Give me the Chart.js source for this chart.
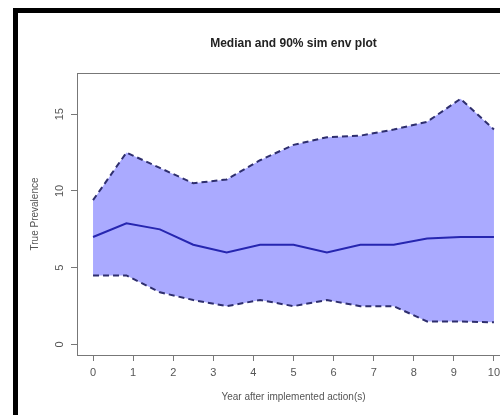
<!DOCTYPE html>
<html>
<head>
<meta charset="utf-8">
<script src="https://cdn.jsdelivr.net/npm/chart.js@4"></script>
<style>
  html, body { margin: 0; padding: 0; background: #fff; overflow: hidden; }
  #wrap { position: absolute; left: 0; top: 0; width: 540px; height: 415px; }
  #frame { position: absolute; left: 13px; top: 8px; width: 600px; height: 500px;
           border-left: 5px solid #000; border-top: 5px solid #000; pointer-events: none; }
</style>
</head>
<body>
<div id="wrap"><canvas id="envChart" width="540" height="415"></canvas></div>
<div id="frame"></div>
<script>
// years (13 steps from 0 to 10)
const years = [0, 0.833, 1.667, 2.5, 3.333, 4.167, 5, 5.833, 6.667, 7.5, 8.333, 9.167, 10];
const upper90 = [9.4, 12.5, 11.5, 10.5, 10.75, 12, 13, 13.5, 13.6, 14, 14.5, 16, 14];
const median = [7, 7.9, 7.5, 6.5, 6, 6.5, 6.5, 6, 6.5, 6.5, 6.9, 7, 7];
const lower90 = [4.5, 4.5, 3.4, 2.9, 2.5, 2.9, 2.5, 2.9, 2.5, 2.5, 1.5, 1.5, 1.45];
const xTicks = [0, 1, 2, 3, 4, 5, 6, 7, 8, 9, 10];
const yTicks = [0, 5, 10, 15];

const pts = (arr) => arr.map((v, i) => ({ x: years[i], y: v }));

const rStyle = {
  id: "rStyle",
  afterDraw(chart) {
    const { ctx, chartArea: a, scales } = chart;
    ctx.save();
    ctx.strokeStyle = "#777";
    ctx.lineWidth = 1;
    ctx.strokeRect(a.left + 0.5, a.top + 0.5, a.right - a.left, a.bottom - a.top);

    ctx.fillStyle = "#222";
    ctx.font = "bold 12px 'Liberation Sans', Arial, sans-serif";
    ctx.textAlign = "center";
    ctx.textBaseline = "middle";
    ctx.fillText("Median and 90% sim env plot", (a.left + a.right) / 2, 44);

    ctx.fillStyle = "#555";
    ctx.font = "11px 'Liberation Sans', Arial, sans-serif";
    xTicks.forEach((t) => {
      ctx.fillText(String(t), scales.x.getPixelForValue(t), a.bottom + 18);
    });
    yTicks.forEach((t) => {
      ctx.save();
      ctx.translate(a.left - 17, scales.y.getPixelForValue(t));
      ctx.rotate(-Math.PI / 2);
      ctx.fillText(String(t), 0, 0);
      ctx.restore();
    });

    ctx.font = "10px 'Liberation Sans', Arial, sans-serif";
    ctx.fillText("Year after implemented action(s)", (a.left + a.right) / 2, a.bottom + 42);
    ctx.save();
    ctx.translate(35, (a.top + a.bottom) / 2);
    ctx.rotate(-Math.PI / 2);
    ctx.fillText("True Prevalence", 0, 0);
    ctx.restore();
    ctx.restore();
  }
};

new Chart(document.getElementById("envChart"), {
  type: "line",
  data: {
    datasets: [
      {
        label: "median",
        data: pts(median),
        borderColor: "#2626b0",
        borderWidth: 2,
        pointRadius: 0,
        fill: false,
        order: 0
      },
      {
        label: "upper",
        data: pts(upper90),
        borderColor: "#2e2e6e",
        borderWidth: 2,
        borderDash: [6, 4],
        pointRadius: 0,
        fill: 2,
        backgroundColor: "#aaaaff",
        order: 2
      },
      {
        label: "lower",
        data: pts(lower90),
        borderColor: "#2e2e6e",
        borderWidth: 2,
        borderDash: [6, 4],
        pointRadius: 0,
        fill: false,
        order: 1
      }
    ]
  },
  options: {
    responsive: false,
    animation: false,
    layout: { padding: { top: 73, right: 30, left: 0, bottom: 0 } },
    plugins: { legend: { display: false }, tooltip: { enabled: false } },
    scales: {
      x: {
        type: "linear",
        min: -0.4,
        max: 10.4,
        afterBuildTicks: (s) => { s.ticks = xTicks.map((v) => ({ value: v })); },
        afterFit: (s) => { s.height = 60; },
        ticks: { display: false },
        border: { display: false },
        grid: { drawOnChartArea: false, tickLength: 6, color: "#777" }
      },
      y: {
        min: -0.68,
        max: 17.68,
        afterBuildTicks: (s) => { s.ticks = yTicks.map((v) => ({ value: v })); },
        afterFit: (s) => { s.width = 77; },
        ticks: { display: false },
        border: { display: false },
        grid: { drawOnChartArea: false, tickLength: 6, color: "#777" }
      }
    }
  },
  plugins: [rStyle]
});
</script>
</body>
</html>
